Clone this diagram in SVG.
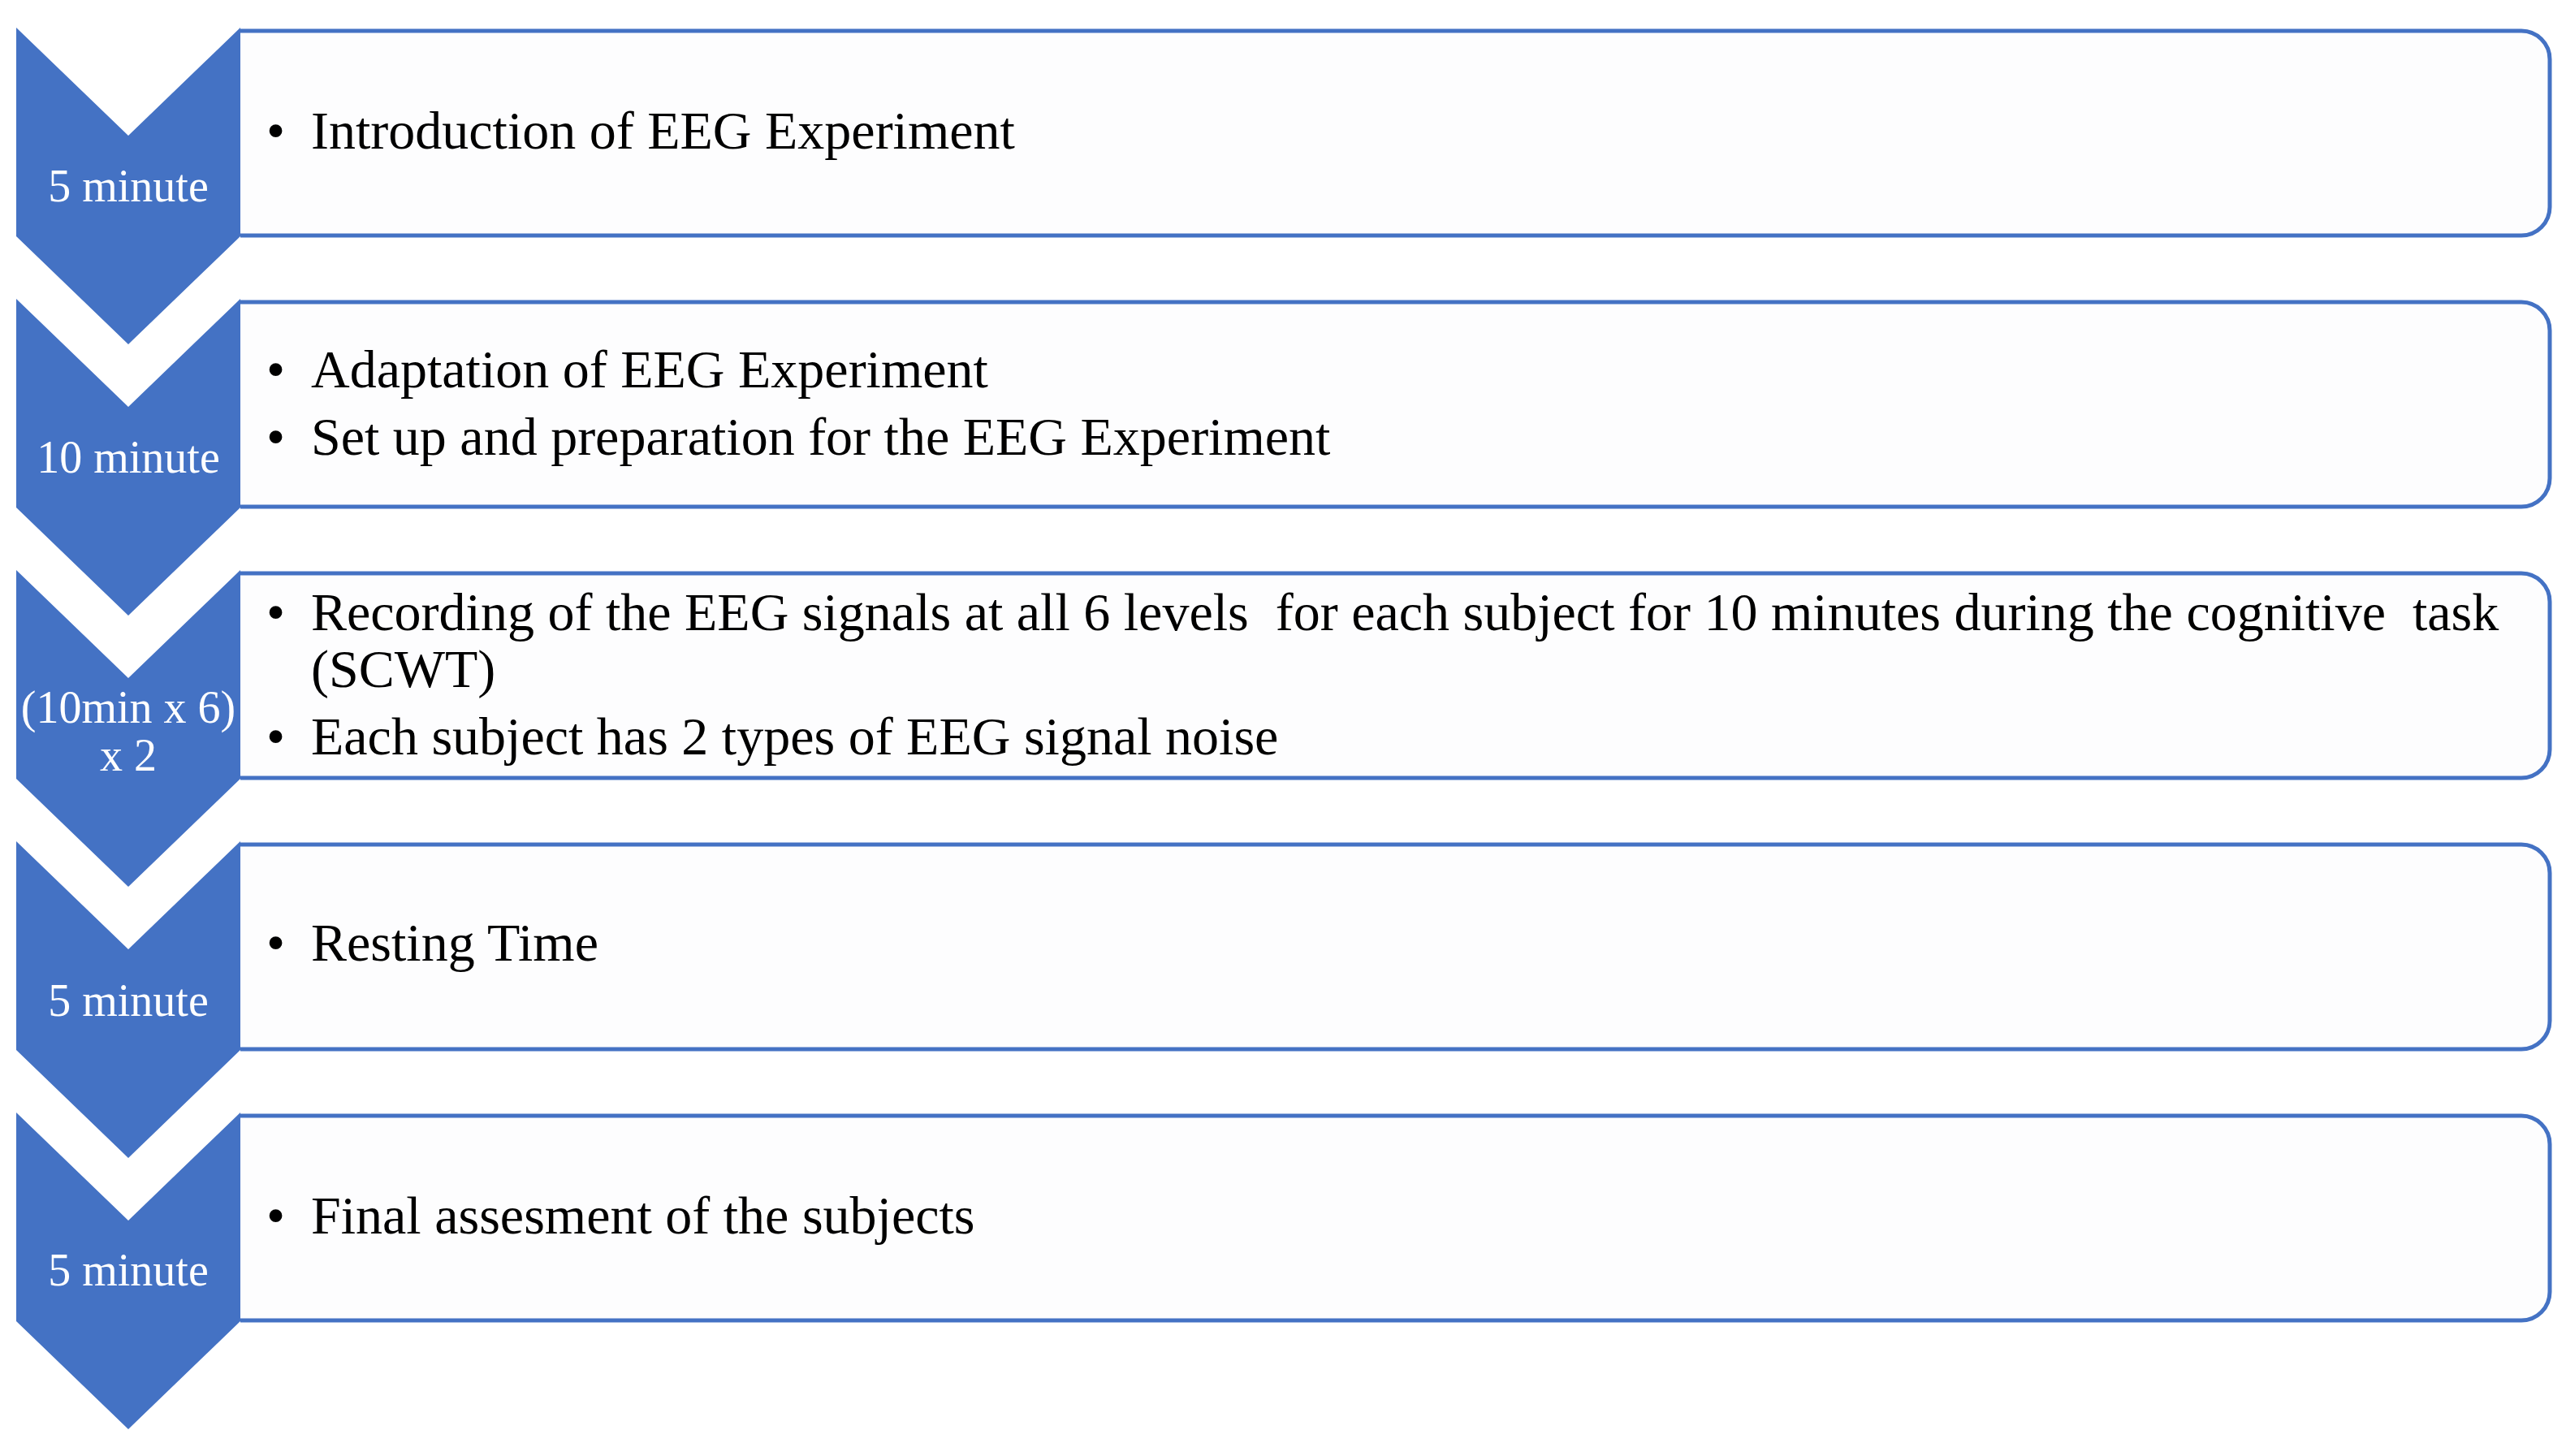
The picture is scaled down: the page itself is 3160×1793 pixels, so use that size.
<svg xmlns="http://www.w3.org/2000/svg" width="3160" height="1793" viewBox="0 0 3160 1793">
<style>
.chev{fill:#4472C4;}
.box{fill:#FDFDFE;stroke:#4472C4;stroke-width:5;}
.lbl{font-family:"Liberation Serif","Times New Roman",serif;font-size:56px;fill:#FFFFFF;text-anchor:middle;}
.txt{font-family:"Liberation Serif","Times New Roman",serif;font-size:66px;fill:#000000;}
</style>
<defs>
<path id="chevShape" d="M20,0 L158,133 L296,0 L296,257 L158,390 L20,257 Z"/>
<path id="boxShape" d="M296,4 L3105,4 A35,35 0 0 1 3140,39 L3140,221 A35,35 0 0 1 3105,256 L296,256"/>
</defs>
<rect x="0" y="0" width="3160" height="1793" fill="#FFFFFF"/>
<g id="connectors"></g>

<g id="step1" transform="translate(0,34)">
<use href="#boxShape" class="box"/>
<use href="#chevShape" class="chev"/>
<text class="lbl" x="158" y="214">5 minute</text>
<text class="txt" x="328" y="149">•</text>
<text class="txt" x="383" y="149">Introduction of EEG Experiment</text>
</g>

<g id="step2" transform="translate(0,368)">
<use href="#boxShape" class="box"/>
<use href="#chevShape" class="chev"/>
<text class="lbl" x="158" y="214">10 minute</text>
<text class="txt" x="328" y="109">•</text>
<text class="txt" x="383" y="109">Adaptation of EEG Experiment</text>
<text class="txt" x="328" y="192">•</text>
<text class="txt" x="383" y="192">Set up and preparation for the EEG Experiment</text>
</g>

<g id="step3" transform="translate(0,702)">
<use href="#boxShape" class="box"/>
<use href="#chevShape" class="chev"/>
<text class="lbl" x="158" y="188">(10min x 6)</text>
<text class="lbl" x="158" y="247">x 2</text>
<text class="txt" x="328" y="74">•</text>
<text class="txt" x="383" y="74" xml:space="preserve">Recording of the EEG signals at all 6 levels  for each subject for 10 minutes during the cognitive  task</text>
<text class="txt" x="383" y="144">(SCWT)</text>
<text class="txt" x="328" y="227">•</text>
<text class="txt" x="383" y="227">Each subject has 2 types of EEG signal noise</text>
</g>

<g id="step4" transform="translate(0,1036)">
<use href="#boxShape" class="box"/>
<use href="#chevShape" class="chev"/>
<text class="lbl" x="158" y="215">5 minute</text>
<text class="txt" x="328" y="147">•</text>
<text class="txt" x="383" y="147">Resting Time</text>
</g>

<g id="step5" transform="translate(0,1370)">
<use href="#boxShape" class="box"/>
<use href="#chevShape" class="chev"/>
<text class="lbl" x="158" y="213">5 minute</text>
<text class="txt" x="328" y="149">•</text>
<text class="txt" x="383" y="149">Final assesment of the subjects</text>
</g>
</svg>
